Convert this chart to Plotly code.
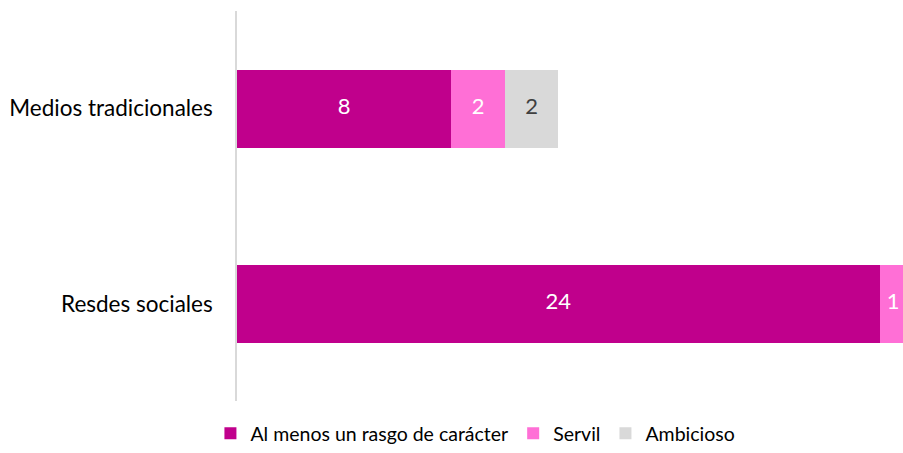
import plotly.graph_objects as go

categories = ["Medios tradicionales", "Resdes sociales"]
series_names = ["Al menos un rasgo de carácter", "Servil", "Ambicioso"]
al_menos = [8, 24]
servil = [2, 1]
ambicioso = [2, 0]

colors = ["#C0008C", "#FF6FD6", "#D9D9D9"]
text_colors = ["#FFFFFF", "#FFFFFF", "#404040"]
FONT = "Lato"

series = [al_menos, servil, ambicioso]

fig = go.Figure()
for name, vals, c in zip(series_names, series, colors):
    fig.add_trace(go.Bar(
        y=categories, x=vals, name=name, orientation="h",
        marker=dict(color=c, line=dict(width=0)),
        hoverinfo="x+name",
    ))

# data labels centred on each stacked segment
base = [0] * len(categories)
for vals, tc in zip(series, text_colors):
    centers = [b + v / 2 for b, v in zip(base, vals)]
    fig.add_trace(go.Scatter(
        x=centers, y=categories, mode="text",
        text=[str(v) if v else "" for v in vals],
        textposition="middle center",
        textfont=dict(color=tc, size=22, family=FONT),
        showlegend=False, hoverinfo="skip", cliponaxis=False,
    ))
    base = [b + v for b, v in zip(base, vals)]

fig.update_layout(
    barmode="stack", bargap=0.6,
    width=903, height=453,
    margin=dict(l=237, r=0, t=11, b=0),
    paper_bgcolor="white", plot_bgcolor="white",
    font=dict(family=FONT, size=22, color="#000000"),
    showlegend=True,
    legend=dict(orientation="h", x=0.358, xanchor="center", y=0.037, yanchor="middle",
                font=dict(size=19.5, color="#000000"), traceorder="normal",
                itemwidth=30, tracegroupgap=0),
    xaxis=dict(range=[0, 24.87], visible=False, showgrid=False, zeroline=False),
    yaxis=dict(autorange="reversed", showline=True, linecolor="#D9D9D9", linewidth=1.5,
               ticks="", showgrid=False, ticklabelstandoff=18, domain=[0.1109, 1],
               tickfont=dict(size=22.5, color="#000000")),
)

fig.write_html("out.html", config={"displayModeBar": False},
               post_script="document.body.style.margin='0';document.body.style.overflow='hidden';")
